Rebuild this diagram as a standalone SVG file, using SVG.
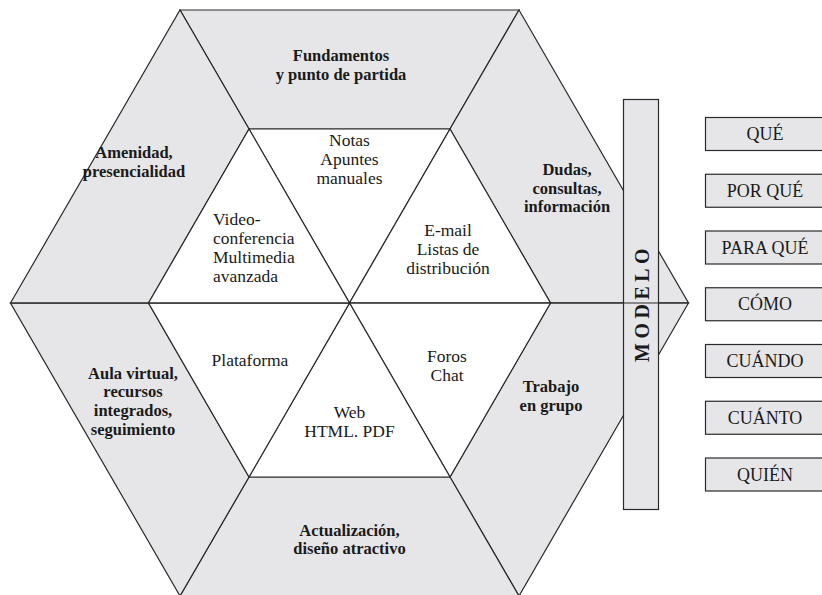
<svg xmlns="http://www.w3.org/2000/svg" width="822" height="595" viewBox="0 0 822 595">
<style>
.g{fill:#e6e6e8;stroke:#2a2a2a;stroke-width:1.2;stroke-linejoin:miter}
.w{fill:#ffffff;stroke:#2a2a2a;stroke-width:1.2}
.ln{stroke:#2a2a2a;stroke-width:1.2;fill:none}
.b{font-family:"Liberation Serif",serif;font-weight:bold;font-size:16.5px;fill:#1a1a1a;text-anchor:middle}
.r{font-family:"Liberation Serif",serif;font-size:17.5px;fill:#1a1a1a;text-anchor:middle}
.l{font-family:"Liberation Serif",serif;font-size:17.5px;fill:#1a1a1a;text-anchor:start}
.q{font-family:"Liberation Serif",serif;font-size:18px;fill:#1a1a1a;text-anchor:middle}
.m{font-family:"Liberation Serif",serif;font-weight:bold;font-size:20px;fill:#1a1a1a;letter-spacing:4.5px}
</style>
<g id="outer">
<polygon id="seg-top" class="g" points="180,10 519,10 450,129 249,129"/>
<polygon id="seg-topright" class="g" points="519,10 688.5,303 550.5,303 450,129"/>
<polygon id="seg-bottomright" class="g" points="688.5,303 519,596 450,477 550.5,303"/>
<polygon id="seg-bottom" class="g" points="519,596 180,596 249,477 450,477"/>
<polygon id="seg-bottomleft" class="g" points="180,596 10.5,303 148.5,303 249,477"/>
<polygon id="seg-topleft" class="g" points="10.5,303 180,10 249,129 148.5,303"/>
</g>
<g id="inner">
<polygon id="tri-top" class="w" points="249,129 450,129 349.5,303"/>
<polygon id="tri-topright" class="w" points="450,129 550.5,303 349.5,303"/>
<polygon id="tri-bottomright" class="w" points="550.5,303 450,477 349.5,303"/>
<polygon id="tri-bottom" class="w" points="450,477 249,477 349.5,303"/>
<polygon id="tri-bottomleft" class="w" points="249,477 148.5,303 349.5,303"/>
<polygon id="tri-topleft" class="w" points="148.5,303 249,129 349.5,303"/>
</g>
<g id="modelo">
<rect class="g" x="623.5" y="99.5" width="35" height="410"/>
<text class="m" transform="translate(649,362) rotate(-90)">MODELO</text>
</g>
<g id="connectors">
<line class="ln" x1="10.5" y1="303" x2="688.5" y2="303"/>
</g>
<g id="labels-outer">
<text class="b" x="341" y="61">Fundamentos</text>
<text class="b" x="341" y="80">y punto de partida</text>
<text class="b" x="134" y="158">Amenidad,</text>
<text class="b" x="134" y="177">presencialidad</text>
<text class="b" x="567" y="175">Dudas,</text>
<text class="b" x="567" y="194">consultas,</text>
<text class="b" x="567" y="212">información</text>
<text class="b" x="133" y="379">Aula virtual,</text>
<text class="b" x="133" y="397">recursos</text>
<text class="b" x="133" y="416">integrados,</text>
<text class="b" x="133" y="435">seguimiento</text>
<text class="b" x="551" y="392">Trabajo</text>
<text class="b" x="551" y="411">en grupo</text>
<text class="b" x="349.5" y="536">Actualización,</text>
<text class="b" x="349.5" y="554">diseño atractivo</text>
</g>
<g id="labels-inner">
<text class="r" x="349.5" y="146">Notas</text>
<text class="r" x="349.5" y="165">Apuntes</text>
<text class="r" x="349.5" y="184">manuales</text>
<text class="l" x="213" y="225">Video-</text>
<text class="l" x="213" y="244">conferencia</text>
<text class="l" x="213" y="263">Multimedia</text>
<text class="l" x="213" y="282">avanzada</text>
<text class="r" x="448" y="236">E-mail</text>
<text class="r" x="448" y="255">Listas de</text>
<text class="r" x="448" y="274">distribución</text>
<text class="r" x="250" y="366">Plataforma</text>
<text class="r" x="447" y="362">Foros</text>
<text class="r" x="447" y="381">Chat</text>
<text class="r" x="349.5" y="418">Web</text>
<text class="r" x="349.5" y="437">HTML. PDF</text>
</g>
<g id="questions">
<g id="q1"><rect class="g" x="705.5" y="117.5" width="130" height="33"/><text class="q" x="765" y="140">QUÉ</text></g>
<g id="q2"><rect class="g" x="705.5" y="174.25" width="130" height="33"/><text class="q" x="765" y="196.75">POR QUÉ</text></g>
<g id="q3"><rect class="g" x="705.5" y="231" width="130" height="33"/><text class="q" x="765" y="253.5">PARA QUÉ</text></g>
<g id="q4"><rect class="g" x="705.5" y="287.75" width="130" height="33"/><text class="q" x="765" y="310.25">CÓMO</text></g>
<g id="q5"><rect class="g" x="705.5" y="344.5" width="130" height="33"/><text class="q" x="765" y="367">CUÁNDO</text></g>
<g id="q6"><rect class="g" x="705.5" y="401.25" width="130" height="33"/><text class="q" x="765" y="423.75">CUÁNTO</text></g>
<g id="q7"><rect class="g" x="705.5" y="458" width="130" height="33"/><text class="q" x="765" y="480.5">QUIÉN</text></g>
</g>
</svg>
